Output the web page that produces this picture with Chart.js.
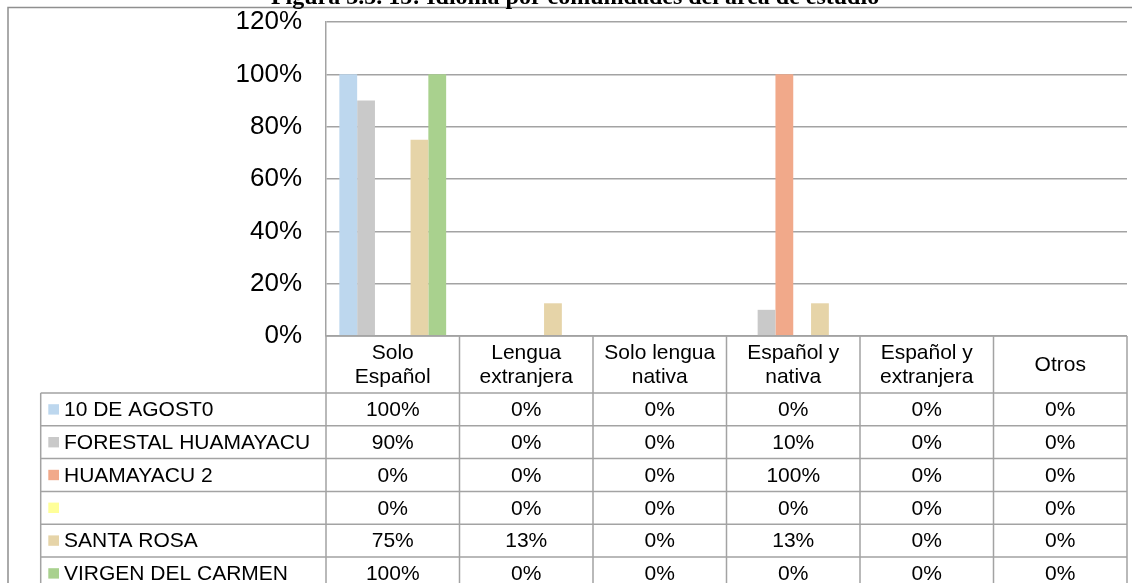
<!DOCTYPE html>
<html>
<head>
<meta charset="utf-8">
<script src="https://cdn.jsdelivr.net/npm/chart.js@4.4.1/dist/chart.umd.min.js"></script>
<style>
  html, body { margin: 0; padding: 0; background: #fff; }
  #c { display: block; }
</style>
</head>
<body>
<canvas id="c" width="1132" height="583"></canvas>
<script>
const title = "Figura 3.5. 15: Idioma por comunidades del área de estudio";
const categories = [["Solo", "Español"], ["Lengua", "extranjera"], ["Solo lengua", "nativa"], ["Español y", "nativa"], ["Español y", "extranjera"], ["Otros"]];
const seriesNames = ["10 DE AGOST0", "FORESTAL HUAMAYACU", "HUAMAYACU 2", "", "SANTA ROSA", "VIRGEN DEL CARMEN"];
const seriesColors = ["#bdd7ee", "#c9c9c9", "#f1a98a", "#ffff99", "#e6d4a8", "#a9d18e"];
const agosto = [100, 0, 0, 0, 0, 0];
const forestal = [90, 0, 0, 10, 0, 0];
const huamayacu2 = [0, 0, 0, 100, 0, 0];
const blankSeries = [0, 0, 0, 0, 0, 0];
const santaRosa = [75, 12.5, 0, 12.5, 0, 0];
const virgen = [100, 0, 0, 0, 0, 0];
const seriesValues = [agosto, forestal, huamayacu2, blankSeries, santaRosa, virgen];
const yTicks = [0, 20, 40, 60, 80, 100, 120];

const LINE = "#a3a3a3";
const SANS = "'Liberation Sans', Arial, sans-serif";

const tablePlugin = {
  id: "tablePlugin",
  afterDraw(chart) {
    const ctx = chart.ctx;
    const xs = chart.scales.x;
    const area = chart.chartArea;
    const n = categories.length;
    const colW = (area.right - area.left) / n;
    const top = area.bottom;
    const headerH = 57;
    const rowH = 32.8;
    const legLeft = 40.7;
    ctx.save();
    // frame
    ctx.strokeStyle = "#8f8f8f";
    ctx.lineWidth = 1.5;
    ctx.beginPath();
    ctx.moveTo(8, 583); ctx.lineTo(8, 7.5); ctx.lineTo(1132, 7.5);
    ctx.stroke();
    // title
    ctx.fillStyle = "#000";
    ctx.font = "bold 24px 'Liberation Serif', 'Times New Roman', serif";
    ctx.textAlign = "center";
    ctx.textBaseline = "alphabetic";
    ctx.fillText(title, 575, 4);

    // table lines
    ctx.strokeStyle = LINE;
    ctx.lineWidth = 1.5;
    ctx.beginPath();
    ctx.moveTo(area.left, top); ctx.lineTo(area.right, top);
    for (let i = 0; i <= n; i++) {
      const x = area.left + i * colW;
      ctx.moveTo(x, top); ctx.lineTo(x, top + headerH + rowH * seriesNames.length);
    }
    ctx.moveTo(legLeft, top + headerH); ctx.lineTo(legLeft, top + headerH + rowH * seriesNames.length);
    for (let r = 0; r <= seriesNames.length; r++) {
      const y = top + headerH + r * rowH;
      ctx.moveTo(legLeft, y); ctx.lineTo(area.right, y);
    }
    ctx.stroke();

    // header labels
    ctx.fillStyle = "#000";
    ctx.font = "21px " + SANS;
    ctx.textAlign = "center";
    ctx.textBaseline = "middle";
    const lh = 24;
    categories.forEach((lab, i) => {
      const cx = xs.getPixelForValue(i);
      const cy = top + headerH / 2;
      lab.forEach((line, k) => {
        ctx.fillText(line, cx, cy + (k - (lab.length - 1) / 2) * lh + 1);
      });
    });

    // rows
    seriesNames.forEach((name, r) => {
      const cy = top + headerH + r * rowH + rowH / 2;
      ctx.fillStyle = seriesColors[r];
      ctx.fillRect(48.3, cy - 5.2, 10.7, 10.4);
      ctx.fillStyle = "#000";
      ctx.textAlign = "left";
      ctx.fillText(name, 64, cy + 1);
      ctx.textAlign = "center";
      seriesValues[r].forEach((v, i) => {
        ctx.fillText(Math.round(v) + "%", xs.getPixelForValue(i), cy + 1);
      });
    });
    ctx.restore();
  }
};

new Chart(document.getElementById("c"), {
  type: "bar",
  data: {
    labels: categories.map(c => c.join(" ")),
    datasets: seriesNames.map((name, i) => ({
      label: name,
      data: seriesValues[i],
      backgroundColor: seriesColors[i],
      borderWidth: 0,
      categoryPercentage: 0.8,
      barPercentage: 1.0
    }))
  },
  options: {
    responsive: false,
    animation: false,
    layout: { padding: { top: 22, right: 5, bottom: 247, left: 0 } },
    plugins: { legend: { display: false }, tooltip: { enabled: false }, title: { display: false } },
    scales: {
      x: { display: false },
      y: {
        min: 0, max: 120,
        afterFit(scale) { scale.width = 326; scale.paddingTop = 0; scale.paddingBottom = 0; },
        afterBuildTicks(scale) { scale.ticks = yTicks.map(v => ({ value: v })); },
        ticks: {
          stepSize: 20,
          padding: 24,
          color: "#000",
          font: { family: SANS, size: 26 },
          callback: v => v + "%"
        },
        grid: { color: LINE, lineWidth: 1.5, drawTicks: false },
        border: { display: true, color: LINE, width: 1.5 }
      }
    }
  },
  plugins: [tablePlugin]
});
</script>
</body>
</html>
